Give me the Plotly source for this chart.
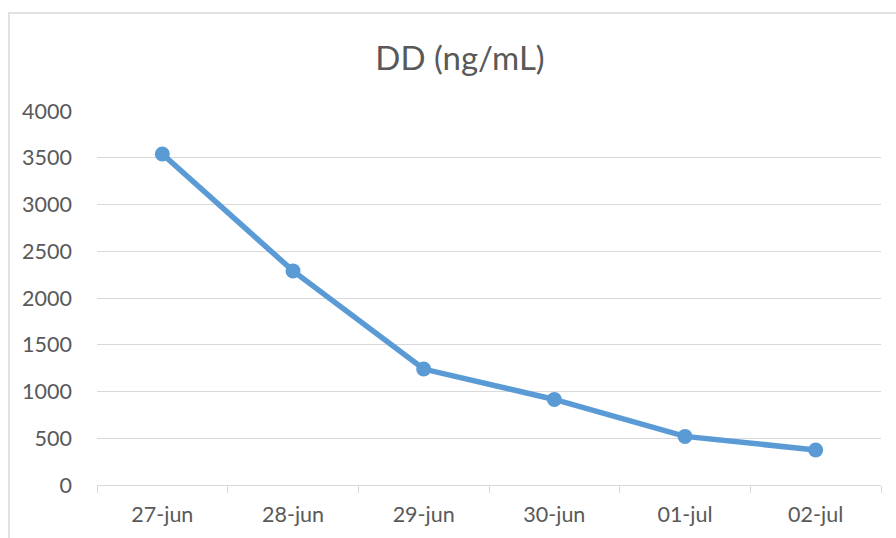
import plotly.graph_objects as go

categories = ["27-jun", "28-jun", "29-jun", "30-jun", "01-jul", "02-jul"]
dd_values = [3540, 2290, 1240, 915, 520, 375]
y_ticks = [0, 500, 1000, 1500, 2000, 2500, 3000, 3500, 4000]

FONT = "Lato, Open Sans, sans-serif"
GREY = "#595959"
GRID = "#D9D9D9"

fig = go.Figure()
fig.add_trace(go.Scatter(
    x=categories, y=dd_values, mode="lines+markers",
    line=dict(color="#5B9BD5", width=5.5),
    marker=dict(color="#5B9BD5", size=15),
    showlegend=False,
))

fig.update_layout(
    width=896, height=538,
    margin=dict(l=97, r=15, t=111, b=53),
    paper_bgcolor="white", plot_bgcolor="white",
    font=dict(family=FONT, color=GREY, size=21),
    title=dict(text="DD (ng/mL)", x=460 / 896, xanchor="center", y=1 - 58 / 538, yanchor="middle",
               font=dict(family=FONT, size=33, color=GREY)),
    xaxis=dict(
        type="category", range=[-0.5, 5.5], showgrid=False, showline=True, linecolor=GRID, linewidth=1,
        ticks="outside", tickson="boundaries", ticklen=7, tickcolor=GRID, tickwidth=1,
        ticklabelstandoff=10, tickfont=dict(size=21.5, color=GREY), zeroline=False,
    ),
    yaxis=dict(
        range=[0, 4000], tickvals=y_ticks, showgrid=True, gridcolor=GRID, gridwidth=1,
        zeroline=False, showline=False, ticks="", ticklabelstandoff=24,
        tickfont=dict(size=21.5, color=GREY),
    ),
    shapes=[dict(
        type="rect", xref="paper", yref="paper",
        x0=(9 - 97) / 784, x1=1.2, y0=-0.3, y1=(485 - 13) / 374,
        line=dict(color=GRID, width=1.5), layer="below",
    )],
)

fig.write_html("out.html")
